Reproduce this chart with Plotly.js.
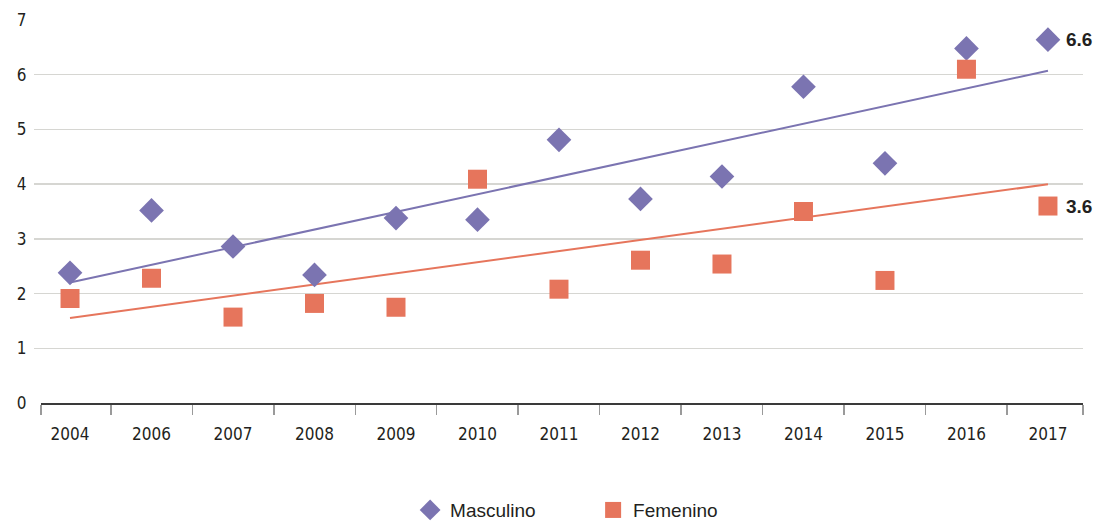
<!DOCTYPE html>
<html>
<head>
<meta charset="utf-8">
<script src="https://cdn.plot.ly/plotly-3.0.1.min.js"></script>
<style>html,body{margin:0;padding:0;background:#fff;}#chart{width:1099px;height:527px;}</style>
</head>
<body>
<div id="chart"></div>
<script>
// ---- Data ----
const years = ['2004','2006','2007','2008','2009','2010','2011','2012','2013','2014','2015','2016','2017'];
const masculino = [2.38, 3.52, 2.86, 2.34, 3.38, 3.35, 4.81, 3.73, 4.14, 5.78, 4.38, 6.48, 6.64];
const femenino  = [1.91, 2.28, 1.57, 1.82, 1.75, 4.09, 2.08, 2.61, 2.54, 3.50, 2.24, 6.10, 3.60];
const yTicks = [0, 1, 2, 3, 4, 5, 6, 7];

// ---- Helpers ----
const idx = years.map((_, i) => i);
function linfit(ys) {
  const n = ys.length;
  const mx = idx.reduce((a, b) => a + b, 0) / n;
  const my = ys.reduce((a, b) => a + b, 0) / n;
  let sxy = 0, sxx = 0;
  idx.forEach((x, i) => { sxy += (x - mx) * (ys[i] - my); sxx += (x - mx) * (x - mx); });
  const b = sxy / sxx, a = my - b * mx;
  return idx.map(x => a + b * x);
}

const PURPLE = '#7b74b1';
const ORANGE = '#e6755c';
const TXT = '#231f20';
const FONT = '"Liberation Sans Narrow", "DejaVu Sans Condensed", "Liberation Sans", sans-serif';
const LFONT = '"Liberation Sans", Arial, sans-serif';

const dataRange = [-0.442, 12.43];   // full plot width (labels + marks)
const axisRange = [-0.356, 12.43];   // baseline with category boundary ticks
const boundaries = [axisRange[0]].concat(idx.slice(0, -1).map(i => i + 0.5)).concat([axisRange[1]]);

const traces = [
  { x: [axisRange[0]], y: [0], xaxis: 'x', mode: 'markers', marker: { opacity: 0 }, showlegend: false, hoverinfo: 'skip' },
  { x: idx, y: linfit(masculino), xaxis: 'x2', mode: 'lines', line: { color: PURPLE, width: 2 }, showlegend: false, hoverinfo: 'skip' },
  { x: idx, y: linfit(femenino), xaxis: 'x2', mode: 'lines', line: { color: ORANGE, width: 2 }, showlegend: false, hoverinfo: 'skip' },
  { x: idx, y: masculino, xaxis: 'x2', name: 'Masculino', mode: 'markers', type: 'scatter',
    marker: { symbol: 'diamond', size: 19, color: PURPLE } },
  { x: idx, y: femenino, xaxis: 'x2', name: 'Femenino', mode: 'markers', type: 'scatter',
    marker: { symbol: 'square', size: 19, color: ORANGE } }
];

const last = years.length - 1;
const layout = {
  width: 1099, height: 527,
  margin: { l: 34, r: 16, t: 20, b: 124, autoexpand: false },
  paper_bgcolor: '#fff', plot_bgcolor: 'rgba(0,0,0,0)',
  font: { family: FONT, size: 17, color: TXT },
  showlegend: true,
  legend: { orientation: 'h', x: 0.533, xanchor: 'center', y: -0.23, yanchor: 'top',
            font: { family: LFONT, size: 19, color: TXT },
            itemwidth: 30, entrywidth: 138, entrywidthmode: 'pixels', traceorder: 'normal' },
  xaxis: {
    range: axisRange, domain: [7 / 1049, 1], anchor: 'y',
    tickvals: boundaries, showticklabels: false,
    ticks: 'outside', ticklen: 10, tickcolor: '#9a9a9a', tickwidth: 1.5,
    showline: true, linecolor: '#3a3a3a', linewidth: 1.5,
    showgrid: false, zeroline: false
  },
  xaxis2: {
    range: dataRange, domain: [0, 1], anchor: 'y',
    tickvals: idx, ticktext: years,
    showgrid: false, zeroline: false, showline: false,
    ticks: 'outside', ticklen: 16, tickcolor: 'rgba(0,0,0,0)',
    tickfont: { family: FONT, size: 17, color: TXT }
  },
  yaxis: {
    range: [0, 7], tickvals: yTicks,
    showgrid: true, gridcolor: '#d6d6d2', gridwidth: 1.3,
    zeroline: false, showline: false,
    ticks: 'outside', ticklen: 10, tickcolor: 'rgba(0,0,0,0)',
    tickfont: { family: FONT, size: 17, color: TXT }
  },
  annotations: [
    { x: last, y: masculino[last], xref: 'x2', yref: 'y', text: masculino[last].toFixed(1),
      showarrow: false, xanchor: 'left', xshift: 16, font: { family: LFONT, size: 19, color: TXT, weight: 'bold' } },
    { x: last, y: femenino[last], xref: 'x2', yref: 'y', text: femenino[last].toFixed(1),
      showarrow: false, xanchor: 'left', xshift: 16, font: { family: LFONT, size: 19, color: TXT, weight: 'bold' } }
  ]
};

Plotly.newPlot('chart', traces, layout, { displayModeBar: false, staticPlot: true });
</script>
</body>
</html>
